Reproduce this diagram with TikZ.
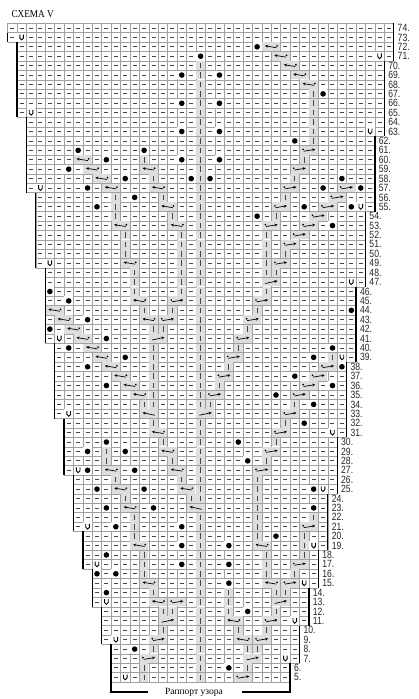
\documentclass[tikz,border=0pt]{standalone}
\usepackage{fontspec}
\usepackage{graphicx}
\setmainfont{Liberation Serif}
\newfontfamily\lblfont{Liberation Sans}
\usetikzlibrary{arrows.meta}
\definecolor{kg}{RGB}{222,222,222}
\definecolor{gl}{RGB}{160,160,160}
\definecolor{ds}{RGB}{70,70,70}
\newcommand\cellc[2]{\pgfmathsetmacro\qx{7.5+9.42*(#1+0.5)}\pgfmathsetmacro\qy{23.3+9.41*(74.5-#2)}}
\newcommand\bgw[1]{\fill[#1] (\qx-4.4,\qy-4.4) rectangle (\qx+4.4,\qy+4.4);}
\newcommand\sB[2]{\cellc{#1}{#2}\bgw{white}\fill[black] (\qx,\qy) circle[radius=2.8pt];}
\newcommand\sK[2]{\cellc{#1}{#2}\bgw{kg}\draw[ksym] (\qx,\qy-2.8) -- (\qx,\qy+2.8);}
\newcommand\sU[2]{\cellc{#1}{#2}\bgw{white}\draw[usym] (\qx-1.8,\qy-2.8) -- (\qx-1.8,\qy+0.6) .. controls (\qx-1.8,\qy+3) and (\qx+1.8,\qy+3) .. (\qx+1.8,\qy+0.6) -- (\qx+1.8,\qy-2.8);}
\newcommand\arrbg[2]{\pgfmathsetmacro\qm{7.5+9.42*(#1+1)}\pgfmathsetmacro\qy{23.3+9.41*(74.5-#2)}\fill[kg] (\qm-9.0,\qy-4.4) rectangle (\qm+9.0,\qy+4.4);}
\newcommand\sAL[2]{\arrbg{#1}{#2}\draw[asym] (\qm+5.2,\qy+0.9) -- (\qm-6.3,\qy-1.0);\fill (\qm+5.8,\qy-0.9) circle[radius=0.95pt];}
\newcommand\sAR[2]{\arrbg{#1}{#2}\draw[asym] (\qm-5.2,\qy+0.9) -- (\qm+6.3,\qy-1.0);\fill (\qm-5.8,\qy-0.9) circle[radius=0.95pt];}
\newcommand\sNL[2]{\arrbg{#1}{#2}\draw[asym] (\qm+6,\qy+1.4) -- (\qm-6.3,\qy-1.2);}
\newcommand\sNR[2]{\arrbg{#1}{#2}\draw[asym] (\qm-6,\qy+1.4) -- (\qm+6.3,\qy-1.2);}
\begin{document}
\begin{tikzpicture}[x=1pt,y=-1pt,
  gridl/.style={draw=gl,line width=0.45pt},
  dashsym/.style={draw=ds,line width=0.8pt},
  ksym/.style={draw=ds,line width=0.75pt},
  usym/.style={draw=black,line width=0.9pt},
  asym/.style={draw=black,line width=0.7pt,-{Stealth[length=3pt,width=2.8pt]}},
  edgeline/.style={draw=black,line width=1.3pt},
  lbl/.style={anchor=west,inner sep=0pt,font=\lblfont\fontsize{10.5}{11}\selectfont,text=black!85}]
\useasboundingbox (0,0) rectangle (418,699);
\fill[white] (0,0) rectangle (418,699);
% grid, dashes, labels
\foreach \rw/\lc/\rc in {74/0/40, 73/0/40, 72/1/40, 71/1/40, 70/1/39, 69/1/39, 68/1/39, 67/1/39, 66/1/39, 65/1/39, 64/2/39, 63/2/39, 62/2/38, 61/2/38, 60/2/38, 59/2/38, 58/2/38, 57/2/38, 56/3/38, 55/3/38, 54/3/37, 53/3/37, 52/3/37, 51/3/37, 50/3/37, 49/3/37, 48/4/37, 47/4/37, 46/4/36, 45/4/36, 44/4/36, 43/4/36, 42/4/36, 41/4/36, 40/5/36, 39/5/36, 38/5/35, 37/5/35, 36/5/35, 35/5/35, 34/5/35, 33/5/35, 32/6/35, 31/6/35, 30/6/34, 29/6/34, 28/6/34, 27/6/34, 26/7/34, 25/7/34, 24/7/33, 23/7/33, 22/7/33, 21/7/33, 20/8/33, 19/8/33, 18/8/32, 17/8/32, 16/9/32, 15/9/32, 14/9/31, 13/9/31, 12/10/31, 11/10/31, 10/10/30, 9/10/30, 8/11/30, 7/11/30, 6/11/29, 5/11/29}{
  \pgfmathsetmacro\yt{23.3+9.41*(74-\rw)}
  \pgfmathsetmacro\yb{\yt+9.41}
  \pgfmathsetmacro\ym{\yt+4.705}
  \pgfmathsetmacro\xl{7.5+9.42*\lc}
  \pgfmathsetmacro\xr{7.5+9.42*(\rc+1)}
  \pgfmathtruncatemacro\rp{\rc+1}
  \foreach \c in {\lc,...,\rc}{
    \pgfmathsetmacro\xc{7.5+9.42*(\c+0.5)}
    \draw[dashsym] (\xc-2.0,\ym) -- (\xc+2.0,\ym);
  }
  \foreach \c in {\lc,...,\rp}{
    \pgfmathsetmacro\xv{7.5+9.42*\c}
    \draw[gridl] (\xv,\yt) -- (\xv,\yb);
  }
  \draw[gridl] (\xl,\yt) -- (\xr,\yt) (\xl,\yb) -- (\xr,\yb);
  \node[lbl] (n\rw) at (\xr+3.8,\ym) {\scalebox{0.82}[1]{\rw.}};
}
% centre column
\foreach \rw in {5,...,22}{\sK{20}{\rw}}
\foreach \rw in {24,...,32}{\sK{20}{\rw}}
\foreach \rw in {34,...,70}{\sK{20}{\rw}}
% symbols
\sU{1}{73}
\sB{26}{72} \sAL{27}{72}
\sB{20}{71} \sAL{28}{71} \sU{39}{71}
\sAL{29}{70}
\sB{18}{69} \sB{22}{69} \sAL{30}{69}
\sAL{31}{68}
\sK{32}{67} \sB{33}{67}
\sB{18}{66} \sB{22}{66} \sK{32}{66}
\sU{2}{65} \sK{32}{65}
\sK{32}{64}
\sB{18}{63} \sB{22}{63} \sK{32}{63} \sU{38}{63}
\sB{30}{62} \sK{32}{62}
\sB{7}{61} \sB{14}{61} \sAR{31}{61}
\sAL{7}{60} \sB{10}{60} \sK{14}{60} \sB{18}{60} \sB{22}{60} \sK{31}{60}
\sB{6}{59} \sAL{8}{59} \sAL{14}{59} \sAR{30}{59}
\sAL{9}{58} \sB{12}{58} \sK{15}{58} \sB{19}{58} \sB{21}{58} \sK{30}{58} \sB{35}{58}
\sU{3}{57} \sB{8}{57} \sAL{10}{57} \sAL{15}{57} \sAR{29}{57} \sB{33}{57} \sAR{35}{57} \sB{37}{57}
\sK{11}{56} \sB{13}{56} \sK{16}{56} \sK{29}{56} \sAR{34}{56}
\sB{9}{55} \sK{11}{55} \sAL{16}{55} \sAR{28}{55} \sB{31}{55} \sAR{33}{55} \sB{36}{55} \sU{37}{55}
\sK{11}{54} \sK{17}{54} \sB{26}{54} \sK{28}{54} \sAR{32}{54}
\sAL{11}{53} \sAL{17}{53} \sAR{27}{53} \sAR{31}{53} \sB{34}{53}
\sK{12}{52} \sK{18}{52} \sK{27}{52} \sAR{30}{52}
\sK{12}{51} \sK{18}{51} \sK{27}{51} \sAR{29}{51}
\sK{12}{50} \sK{18}{50} \sK{27}{50} \sK{29}{50}
\sU{4}{49} \sAL{12}{49} \sK{18}{49} \sK{27}{49} \sAR{28}{49}
\sK{13}{48} \sK{18}{48} \sK{27}{48} \sK{28}{48}
\sK{13}{47} \sK{18}{47} \sNR{27}{47} \sU{36}{47}
\sB{4}{46} \sK{13}{46} \sK{18}{46} \sK{27}{46}
\sB{6}{45} \sAL{13}{45} \sAR{17}{45} \sAR{26}{45}
\sAL{4}{44} \sK{14}{44} \sK{17}{44} \sK{26}{44} \sB{36}{44}
\sAL{5}{43} \sB{8}{43} \sAL{14}{43} \sAR{16}{43} \sAR{25}{43}
\sB{4}{42} \sAL{6}{42} \sK{15}{42} \sK{16}{42} \sK{25}{42}
\sU{5}{41} \sAL{7}{41} \sB{10}{41} \sNR{15}{41} \sAR{24}{41}
\sB{6}{40} \sAL{8}{40} \sK{15}{40} \sK{24}{40} \sB{34}{40}
\sAL{9}{39} \sB{12}{39} \sK{15}{39} \sAR{23}{39} \sB{32}{39} \sK{34}{39} \sU{35}{39}
\sB{8}{38} \sAL{10}{38} \sK{15}{38} \sK{23}{38} \sAR{33}{38} \sB{35}{38}
\sAL{11}{37} \sK{15}{37} \sAR{22}{37} \sB{30}{37} \sAR{32}{37}
\sB{10}{36} \sAL{12}{36} \sK{15}{36} \sK{22}{36} \sAR{31}{36} \sB{34}{36}
\sAL{13}{35} \sK{15}{35} \sAR{21}{35} \sB{28}{35} \sAR{30}{35}
\sK{14}{34} \sK{15}{34} \sK{21}{34} \sK{30}{34} \sB{32}{34}
\sU{6}{33} \sNL{14}{33} \sNR{20}{33} \sAR{29}{33}
\sK{15}{32} \sK{29}{32} \sB{31}{32}
\sAL{15}{31} \sAR{28}{31} \sU{34}{31}
\sB{10}{30} \sK{16}{30} \sB{24}{30} \sK{28}{30}
\sB{8}{29} \sK{10}{29} \sB{12}{29} \sAL{16}{29} \sAR{27}{29}
\sK{10}{28} \sK{17}{28} \sB{25}{28} \sK{27}{28}
\sU{7}{27} \sB{8}{27} \sAL{10}{27} \sB{13}{27} \sAL{17}{27} \sAR{26}{27}
\sK{11}{26} \sK{18}{26} \sK{26}{26}
\sB{9}{25} \sAL{11}{25} \sB{14}{25} \sAL{18}{25} \sK{26}{25} \sB{32}{25} \sU{33}{25}
\sK{12}{24} \sK{19}{24} \sK{26}{24}
\sB{10}{23} \sAL{12}{23} \sB{15}{23} \sNL{19}{23} \sK{26}{23} \sB{32}{23}
\sK{13}{22} \sK{26}{22} \sK{32}{22}
\sU{8}{21} \sB{11}{21} \sK{13}{21} \sB{18}{21} \sK{26}{21} \sAR{31}{21}
\sK{13}{20} \sK{26}{20} \sB{28}{20} \sK{31}{20}
\sAL{13}{19} \sB{18}{19} \sB{23}{19} \sAL{26}{19} \sK{31}{19} \sU{32}{19}
\sB{10}{18} \sK{14}{18} \sK{27}{18} \sK{31}{18}
\sU{9}{17} \sK{14}{17} \sB{18}{17} \sB{23}{17} \sK{27}{17} \sAR{30}{17}
\sB{9}{16} \sB{11}{16} \sK{14}{16} \sK{27}{16} \sK{30}{16}
\sAL{14}{15} \sB{23}{15} \sAL{27}{15} \sAR{29}{15} \sU{31}{15}
\sB{10}{14} \sK{15}{14} \sK{23}{14} \sK{28}{14} \sK{29}{14}
\sU{10}{13} \sAL{15}{13} \sAR{17}{13} \sK{23}{13} \sNR{28}{13}
\sK{16}{12} \sK{17}{12} \sK{23}{12} \sB{25}{12} \sK{28}{12}
\sNR{16}{11} \sAL{23}{11} \sAR{27}{11} \sU{30}{11}
\sK{16}{10} \sK{24}{10} \sK{27}{10}
\sU{11}{9} \sAR{15}{9} \sAL{24}{9} \sAR{26}{9}
\sB{13}{8} \sK{15}{8} \sK{25}{8} \sK{26}{8}
\sAR{14}{7} \sNR{25}{7} \sU{29}{7}
\sK{14}{6} \sB{23}{6} \sK{25}{6}
\sU{12}{5} \sK{14}{5} \sAR{24}{5}
% bold edges
\foreach \rw/\lc/\rc in {74/0/40, 73/0/40, 72/1/40, 71/1/40, 70/1/39, 69/1/39, 68/1/39, 67/1/39, 66/1/39, 65/1/39, 64/2/39, 63/2/39, 62/2/38, 61/2/38, 60/2/38, 59/2/38, 58/2/38, 57/2/38, 56/3/38, 55/3/38, 54/3/37, 53/3/37, 52/3/37, 51/3/37, 50/3/37, 49/3/37, 48/4/37, 47/4/37, 46/4/36, 45/4/36, 44/4/36, 43/4/36, 42/4/36, 41/4/36, 40/5/36, 39/5/36, 38/5/35, 37/5/35, 36/5/35, 35/5/35, 34/5/35, 33/5/35, 32/6/35, 31/6/35, 30/6/34, 29/6/34, 28/6/34, 27/6/34, 26/7/34, 25/7/34, 24/7/33, 23/7/33, 22/7/33, 21/7/33, 20/8/33, 19/8/33, 18/8/32, 17/8/32, 16/9/32, 15/9/32, 14/9/31, 13/9/31, 12/10/31, 11/10/31, 10/10/30, 9/10/30, 8/11/30, 7/11/30, 6/11/29, 5/11/29}{
  \pgfmathsetmacro\yt{23.3+9.41*(74-\rw)}
  \pgfmathsetmacro\yb{\yt+9.41}
  \pgfmathsetmacro\xl{7.5+9.42*\lc}
  \pgfmathsetmacro\xr{7.5+9.42*(\rc+1)}
  \draw[edgeline] (\xr,\yt) -- (\xr,\yb);
  \ifnum\rw<74 \draw[edgeline] (\xl,\yt) -- (\xl,\yb); \fi
}
% title and repeat bracket
\node[anchor=base west,inner sep=0pt,font=\fontsize{10.5}{12}\selectfont] (title) at (11.5,17.3) {\scalebox{0.88}[1]{СХЕМА V}};
\coordinate (bl) at (111.12,682.0);
\coordinate (br) at (290.1,682.0);
\draw[edgeline] (bl) -- (111.12,692) -- (148,692);
\draw[edgeline] (br) -- (290.1,692) -- (242,692);
\node[anchor=base,inner sep=0pt,font=\fontsize{9.5}{11}\selectfont] (rap) at (194,694) {Раппорт узора};
\end{tikzpicture}
\end{document}
